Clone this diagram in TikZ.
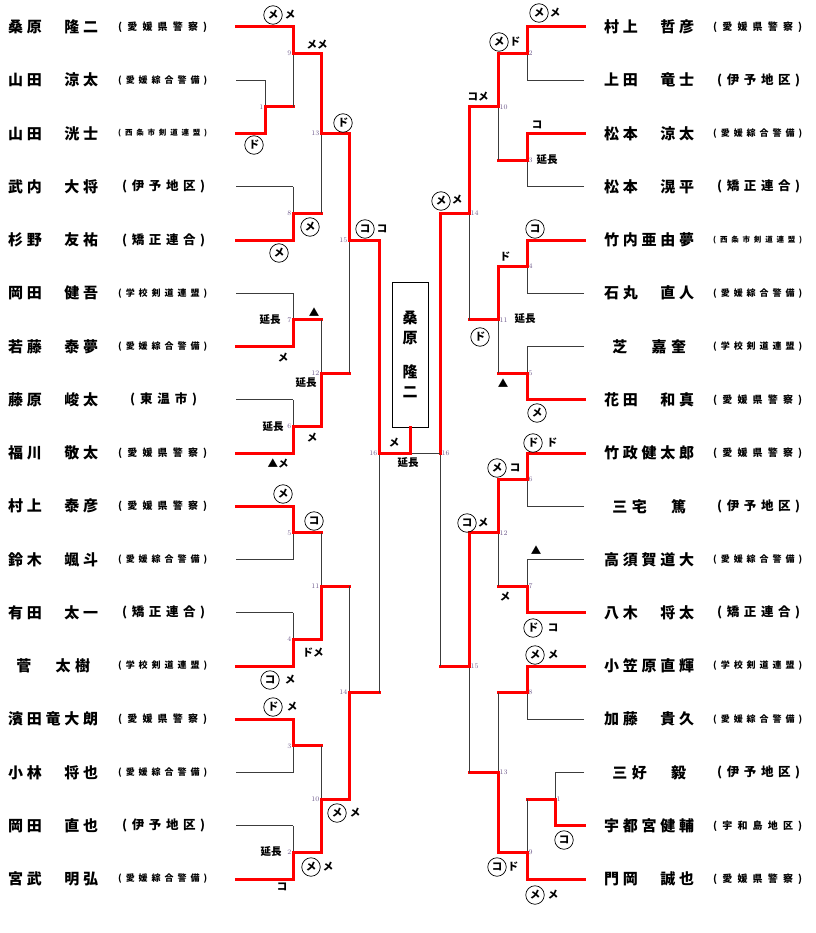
\documentclass[tikz,border=0pt]{standalone}
\usepackage{fontspec}
\newfontfamily\jp{Noto Sans CJK JP}
\definecolor{kred}{RGB}{255,0,0}
\definecolor{kgray}{RGB}{60,60,60}
\definecolor{numcol}{RGB}{110,90,140}

\def\spr#1{\sprA#1\relax}
\def\sprA#1{#1\sprB}
\def\sprB#1{\ifx#1\relax\else\hfill#1\expandafter\sprB\fi}
\newcommand\pnbox[1]{{\jp\bfseries\fontsize{15}{15}\selectfont\makebox[90pt][s]{\expandafter\spr\expandafter{#1}}}}
\newcommand\affbox[4]{\hspace*{#2pt}{\jp\bfseries\fontsize{#1}{#1}\selectfont\makebox[#3pt][s]{(\hfill\expandafter\spr\expandafter{#4}\hfill)}}}
\def\affA#1{\affbox{10}{0}{89}{#1}}
\def\affB#1{\affbox{9}{0}{89}{#1}}
\def\affC#1{\affbox{7.5}{0}{89}{#1}}
\def\affD#1{\affbox{12.5}{4}{83}{#1}}
\def\affE#1{\affbox{12.5}{12}{67}{#1}}
\newcommand\bout[4]{%
  \draw[#4] (#3) -- (#3 -| #1);
  \draw[lose] (#3 -| #1) -- (#1);
  \draw[win] (#2) -- (#2 -| #1) -- (#1);}

\begin{document}
\begin{tikzpicture}[x=1pt,y=-1pt,
  lose/.style={draw=kgray,line width=0.8pt},
  win/.style={draw=kred,line width=3pt,line cap=rect},
  pn/.style={anchor=west,inner sep=0pt},
  ipp/.style={circle,draw,line width=0.7pt,minimum size=18.5pt,inner sep=0pt,font=\jp\bfseries\fontsize{10.5}{10.5}\selectfont},
  res/.style={inner sep=0pt,font=\jp\bfseries\fontsize{10.5}{10.5}\selectfont},
  nol/.style={anchor=east,inner sep=1.5pt,text=numcol,font=\fontsize{7}{7}\selectfont},
  nor/.style={anchor=west,inner sep=1.5pt,text=numcol,font=\fontsize{7}{7}\selectfont}]
\useasboundingbox (0,0) rectangle (815,933);

\foreach \pname/\ptype/\paff [count=\i from 0] in {
  桑原　隆二/A/愛媛県警察,
  山田　涼太/B/愛媛綜合警備,
  山田　洸士/C/西条市剣道連盟,
  武内　大将/D/伊予地区,
  杉野　友祐/D/矯正連合,
  岡田　健吾/B/学校剣道連盟,
  若藤　泰夢/B/愛媛綜合警備,
  藤原　峻太/E/東温市,
  福川　敬太/A/愛媛県警察,
  村上　泰彦/A/愛媛県警察,
  鈴木　颯斗/B/愛媛綜合警備,
  有田　太一/D/矯正連合,
  ~菅　太樹~/B/学校剣道連盟,
  濱田竜大朗/A/愛媛県警察,
  小林　将也/B/愛媛綜合警備,
  岡田　直也/D/伊予地区,
  宮武　明弘/B/愛媛綜合警備}
{
  \pgfmathsetmacro\py{27+53.25*\i}
  \node[pn] (nl\i) at (8,\py) {\pnbox{\pname}};
  \node[pn] (al\i) at (118,\py) {\csname aff\ptype\endcsname{\paff}};
  \coordinate (pl\i) at (236,\py);
}
\foreach \pname/\ptype/\paff [count=\i from 0] in {
  村上　哲彦/A/愛媛県警察,
  上田　竜士/D/伊予地区,
  松本　涼太/B/愛媛綜合警備,
  松本　滉平/D/矯正連合,
  竹内亜由夢/C/西条市剣道連盟,
  石丸　直人/B/愛媛綜合警備,
  ~芝　嘉奎~/B/学校剣道連盟,
  花田　和真/A/愛媛県警察,
  竹政健太郎/A/愛媛県警察,
  ~三宅　篤~/D/伊予地区,
  高須賀道大/B/愛媛綜合警備,
  八木　将太/D/矯正連合,
  小笠原直輝/B/学校剣道連盟,
  加藤　貴久/B/愛媛綜合警備,
  ~三好　毅~/D/伊予地区,
  宇都宮健輔/A/宇和島地区,
  門岡　誠也/A/愛媛県警察}
{
  \pgfmathsetmacro\py{27+53.25*\i}
  \node[pn] (nr\i) at (604,\py) {\pnbox{\pname}};
  \node[pn] (ar\i) at (713,\py) {\csname aff\ptype\endcsname{\paff}};
  \coordinate (pr\i) at (584,\py);
}

\foreach \n/\x/\y in {L1/265/106.9, L9/293/53.6, L8/293/213.4, L13/321/133.5,
  L7/293/319.9, L6/293/426.4, L12/321/373.1, L15/349/240,
  L5/293/532.9, L4/293/639.4, L11/321/586.1, L3/293/745.9,
  L2/293/852.4, L10/321/799.1, L14/349/692.6, L16/379/453,
  R2/527/53.6, R3/527/160.1, R10/498/106.9, R4/527/266.6,
  R5/527/373.1, R11/498/319.9, R14/469/213.4, R6/527/479.6,
  R7/527/586.1, R12/498/532.9, R8/527/692.6, R1/555/799.1,
  R9/527/852.4, R13/498/772.5, R15/469/666, R16/440/453}
  \coordinate (\n) at (\x,\y);

\node[draw,line width=0.8pt,minimum width=36pt,minimum height=145pt,inner sep=0pt,align=center,
  font=\jp\bfseries\fontsize{15}{20}\selectfont] (champ) at (410,354.5) {桑\\原\\[14pt]隆\\二};

\bout{L1}{pl2}{pl1}{lose}
\bout{L9}{pl0}{L1}{win}
\bout{L8}{pl4}{pl3}{lose}
\bout{L13}{L9}{L8}{win}
\bout{L7}{pl6}{pl5}{lose}
\bout{L6}{pl8}{pl7}{lose}
\bout{L12}{L6}{L7}{win}
\bout{L15}{L13}{L12}{win}
\bout{L5}{pl9}{pl10}{lose}
\bout{L4}{pl12}{pl11}{lose}
\bout{L11}{L4}{L5}{win}
\bout{L3}{pl13}{pl14}{lose}
\bout{L2}{pl16}{pl15}{lose}
\bout{L10}{L2}{L3}{win}
\bout{L14}{L10}{L11}{win}
\bout{L16}{L15}{L14}{win}
\bout{R2}{pr0}{pr1}{lose}
\bout{R3}{pr2}{pr3}{lose}
\bout{R10}{R2}{R3}{win}
\bout{R4}{pr4}{pr5}{lose}
\bout{R5}{pr7}{pr6}{lose}
\bout{R11}{R4}{R5}{win}
\bout{R14}{R10}{R11}{win}
\bout{R6}{pr8}{pr9}{lose}
\bout{R7}{pr11}{pr10}{lose}
\bout{R12}{R6}{R7}{win}
\bout{R8}{pr12}{pr13}{lose}
\bout{R1}{pr15}{pr14}{lose}
\bout{R9}{pr16}{R1}{win}
\bout{R13}{R9}{R8}{win}
\bout{R15}{R12}{R13}{win}
\bout{R16}{R14}{R15}{win}
\coordinate (fin) at (410,453);
\draw[lose] (R16) -- (fin);
\draw[win] (L16) -- (fin) -- (champ.south);

\foreach \m in {1,...,16} {
  \node[nol] (ml\m) at (L\m) {\m};
  \node[nor] (mr\m) at (R\m) {\m};
}

\foreach \x/\y/\t [count=\k] in {273/15/メ, 254/145/ド, 343/123/ド, 310/227/メ, 279/253/メ,
  365/229/コ, 283/494/メ, 314/521/コ, 270/680/コ, 273/707/ド, 337/813/メ, 311/867/メ,
  441/201/メ, 539/13/メ, 499/42/メ, 535/229/コ, 480/337/ド, 537/413/メ, 533/443/ド,
  497/468/メ, 467/523/コ, 533/628/ド, 535/655/メ, 564/840/コ, 497/867/コ, 535/895/メ}
  \node[ipp] (c\k) at (\x,\y) {\t};

\foreach \x/\y/\t [count=\k] in {290/15/メ, 317/45/メメ, 382/229/コ, 314/312/▲, 270/320/延長,
  283/358/メ, 306/383/延長, 273/427/延長, 312/438/メ, 278/463/▲メ, 313/653/ドメ,
  290/680/メ, 292/707/メ, 355/813/メ, 271/852/延長, 328/867/メ, 282/887/コ,
  394/443/メ, 408/463/延長, 457/200/メ, 555/13/メ, 515/42/ド, 478/97/コメ,
  537/125/コ, 547/160/延長, 505/257/ド, 525/319/延長, 503/383/▲, 552/443/ド,
  515/468/コ, 483/523/メ, 536/550/▲, 505/597/メ, 553/628/コ, 553/655/メ,
  513/867/ド, 553/895/メ}
  \node[res] (t\k) at (\x,\y) {\t};
\end{tikzpicture}
\end{document}
